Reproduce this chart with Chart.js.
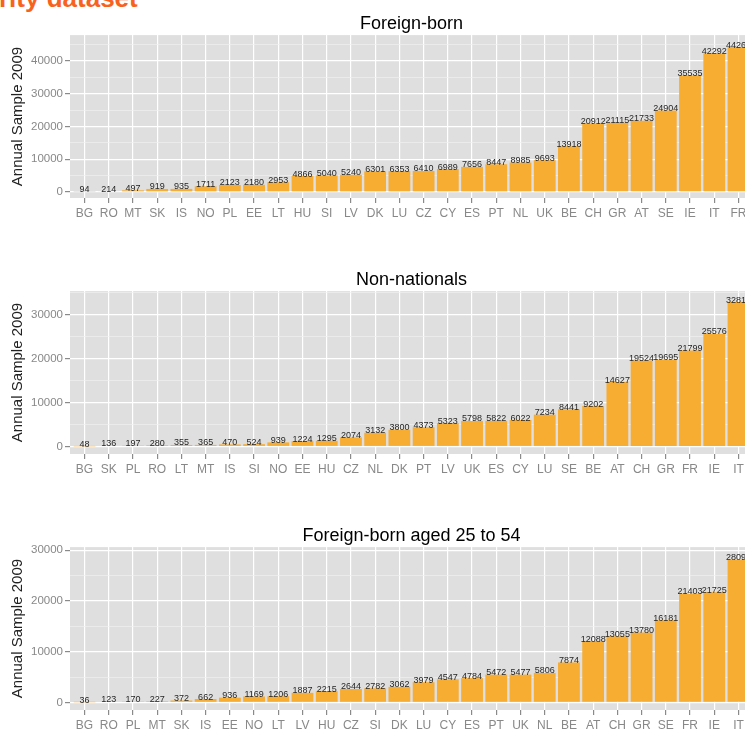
<!DOCTYPE html>
<html>
<head>
<meta charset="utf-8">
<script src="https://cdn.jsdelivr.net/npm/chart.js@4/dist/chart.umd.min.js"></script>
<style>
  body { margin: 0; background: #fff; width: 745px; height: 729px; overflow: hidden; position: relative; }
  .head { position: absolute; left: -1px; top: -15px; font: bold 26px/1 "Liberation Sans", Arial, sans-serif; color: #F7621E; white-space: nowrap; }
  canvas { position: absolute; left: 0; }
</style>
</head>
<body>
<div class="head">rity dataset</div>
<canvas id="chart-foreign" width="760" height="230" style="top:0"></canvas>
<canvas id="chart-nonnat" width="760" height="230" style="top:256px"></canvas>
<canvas id="chart-aged" width="760" height="230" style="top:512px"></canvas>
<script>
// Foreign-born
var foreignCountries = ['BG','RO','MT','SK','IS','NO','PL','EE','LT','HU','SI','LV','DK','LU','CZ','CY','ES','PT','NL','UK','BE','CH','GR','AT','SE','IE','IT','FR'];
var foreignValues = [94, 214, 497, 919, 935, 1711, 2123, 2180, 2953, 4866, 5040, 5240, 6301, 6353, 6410, 6989, 7656, 8447, 8985, 9693, 13918, 20912, 21115, 21733, 24904, 35535, 42292, 44265];

// Non-nationals
var nonnatCountries = ['BG','SK','PL','RO','LT','MT','IS','SI','NO','EE','HU','CZ','NL','DK','PT','LV','UK','ES','CY','LU','SE','BE','AT','CH','GR','FR','IE','IT'];
var nonnatValues = [48, 136, 197, 280, 355, 365, 470, 524, 939, 1224, 1295, 2074, 3132, 3800, 4373, 5323, 5798, 5822, 6022, 7234, 8441, 9202, 14627, 19524, 19695, 21799, 25576, 32817];

// Foreign-born aged 25 to 54
var agedCountries = ['BG','RO','PL','MT','SK','IS','EE','NO','LT','LV','HU','CZ','SI','DK','LU','CY','ES','PT','UK','NL','BE','AT','CH','GR','SE','FR','IE','IT'];
var agedValues = [36, 123, 170, 227, 372, 662, 936, 1169, 1206, 1887, 2215, 2644, 2782, 3062, 3979, 4547, 4784, 5472, 5477, 5806, 7874, 12088, 13055, 13780, 16181, 21403, 21725, 28093];

var FONT = '"Liberation Sans", Arial, sans-serif';
var BAR = '#F7AC32';
var PANEL = '#DFDFE0';

var panelBg = {
  id: 'panelBg',
  beforeDraw: function(chart) {
    var a = chart.chartArea, ctx = chart.ctx;
    ctx.save();
    ctx.fillStyle = PANEL;
    ctx.fillRect(a.left, a.top, a.right - a.left, a.bottom - a.top);
    ctx.restore();
  }
};

var valueLabels = {
  id: 'valueLabels',
  afterDatasetsDraw: function(chart) {
    var ctx = chart.ctx;
    var meta = chart.getDatasetMeta(0);
    var data = chart.data.datasets[0].data;
    ctx.save();
    ctx.font = '9px ' + FONT;
    ctx.fillStyle = '#262626';
    ctx.textAlign = 'center';
    ctx.textBaseline = 'alphabetic';
    meta.data.forEach(function(bar, i) {
      ctx.fillText(String(data[i].y), bar.x, bar.y + 0.5);
    });
    ctx.restore();
  }
};

function isMajor(ctx) {
  return ctx.tick && ctx.tick.value % 10000 === 0;
}

function panel(id, title, names, values, yMin, yMax) {
  return new Chart(document.getElementById(id), {
    type: 'bar',
    data: {
      datasets: [{
        data: values.map(function(v, i) { return { x: i, y: v }; }),
        backgroundColor: BAR,
        barPercentage: 0.9,
        categoryPercentage: 1
      }]
    },
    options: {
      responsive: false,
      animation: false,
      devicePixelRatio: 1,
      layout: { padding: { left: 0, right: 7, top: 0, bottom: 0 } },
      plugins: {
        legend: { display: false },
        tooltip: { enabled: false },
        title: {
          display: true,
          text: title,
          fullSize: false,
          color: '#000',
          font: { size: 18, family: FONT, weight: 'normal' },
          padding: { top: 13.5, bottom: 0 }
        }
      },
      scales: {
        x: {
          type: 'linear',
          offset: false,
          min: -0.6,
          max: names.length - 0.4,
          afterBuildTicks: function(axis) {
            axis.ticks = names.map(function(n, i) { return { value: i }; });
          },
          afterFit: function(axis) { axis.height = 32; },
          border: { display: false },
          grid: { offset: false, color: '#fff', lineWidth: 1.2, tickColor: '#8a8a8a', tickLength: 5 },
          ticks: {
            autoSkip: false,
            maxRotation: 0,
            padding: 3,
            color: '#888',
            font: { size: 12, family: FONT },
            callback: function(v) { return names[v] || ''; }
          }
        },
        y: {
          min: yMin,
          max: yMax,
          afterBuildTicks: function(axis) {
            var t = [];
            for (var v = 0; v <= yMax; v += 5000) t.push({ value: v });
            axis.ticks = t;
          },
          afterFit: function(axis) { axis.width = 70; },
          border: { display: false },
          grid: {
            color: function(ctx) { return isMajor(ctx) ? '#fff' : '#F0F0F0'; },
            lineWidth: function(ctx) { return isMajor(ctx) ? 1.2 : 0.7; },
            tickColor: function(ctx) { return isMajor(ctx) ? '#8a8a8a' : 'rgba(0,0,0,0)'; },
            tickLength: 5
          },
          ticks: {
            padding: 2,
            color: '#888',
            font: { size: 11.5, family: FONT },
            callback: function(v) { return v % 10000 === 0 ? String(v) : ''; }
          },
          title: {
            display: true,
            text: 'Annual Sample 2009',
            color: '#222',
            font: { size: 15, family: FONT },
            padding: { top: 9, bottom: 0 }
          }
        }
      }
    },
    plugins: [panelBg, valueLabels]
  });
}

panel('chart-foreign', 'Foreign-born', foreignCountries, foreignValues, -1850, 47900);
panel('chart-nonnat', 'Non-nationals', nonnatCountries, nonnatValues, -1700, 35300);
panel('chart-aged', 'Foreign-born aged 25 to 54', agedCountries, agedValues, -1500, 30600);
</script>
</body>
</html>
